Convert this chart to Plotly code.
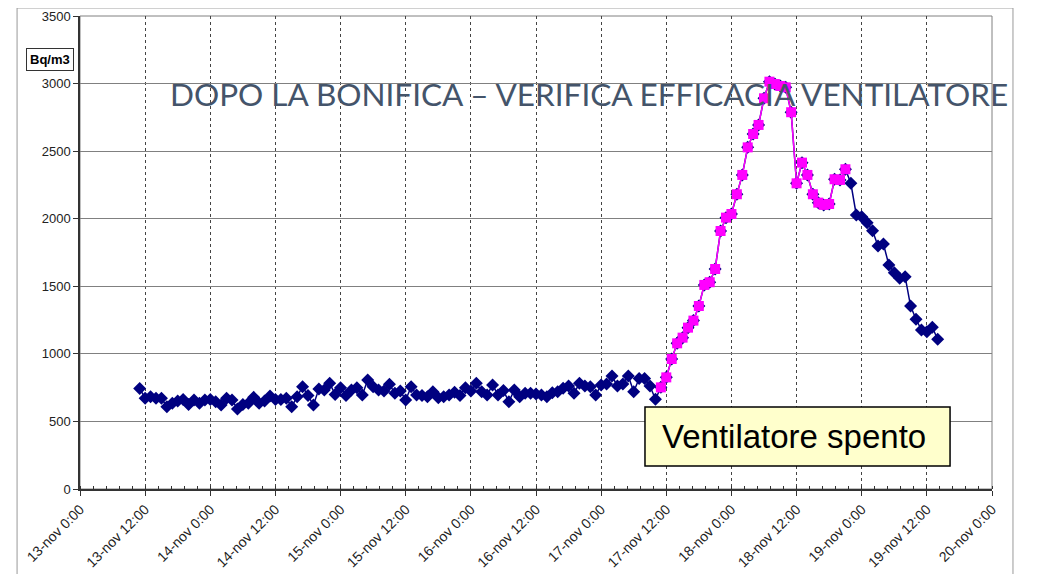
import pandas as pd
import plotly.graph_objects as go

# hourly radon readings, first one at 13-nov 11:00
first_reading = "2008-11-13 11:00"
radon_bq_m3 = [
    744, 671, 683, 671, 671, 609, 634, 651, 663, 626, 659, 634, 659, 663, 646, 622,
    671, 659, 592, 626, 634, 678, 634, 651, 688, 663, 663, 671, 609, 683, 757,
    691, 622, 740, 733, 782, 700, 750, 691, 733, 750, 696, 807, 757, 733, 725, 775,
    708, 725, 659, 757, 696, 691, 683, 720, 676, 683, 696, 715, 691, 750, 725,
    782, 720, 696, 770, 696, 728, 646, 733, 683, 708, 708, 703, 696, 683, 713, 720,
    745, 762, 708, 782, 762, 757, 696, 770, 777, 836, 762, 777, 836, 720, 818, 818,
    762, 664,
    752, 826, 962, 1078, 1120, 1194, 1246, 1354, 1510, 1530, 1628, 1909, 2008, 2035,
    2181, 2324,
    2528, 2627, 2694, 2891, 3014, 2997, 2982, 2972, 2788, 2262, 2415, 2324, 2181, 2119,
    2102, 2109, 2292, 2287, 2366,
    2262, 2028, 2015, 1971, 1911, 1798, 1813, 1658, 1601, 1559, 1571, 1354, 1256, 1177,
    1164, 1196, 1108,
]

# period with the fan switched off (magenta)
fan_off_from = "2008-11-17 11:00"
fan_off_to = "2008-11-18 21:00"

tick_times = pd.date_range("2008-11-13 00:00", "2008-11-20 00:00", freq="12h")
tick_labels = [
    "13-nov 0:00", "13-nov 12:00", "14-nov 0:00", "14-nov 12:00", "15-nov 0:00",
    "15-nov 12:00", "16-nov 0:00", "16-nov 12:00", "17-nov 0:00", "17-nov 12:00",
    "18-nov 0:00", "18-nov 12:00", "19-nov 0:00", "19-nov 12:00", "20-nov 0:00",
]

series = pd.Series(
    radon_bq_m3,
    index=pd.date_range(first_reading, periods=len(radon_bq_m3), freq="h"),
)
fan_off = series[fan_off_from:fan_off_to]

fig = go.Figure()
fig.add_trace(
    go.Scatter(
        x=series.index,
        y=series.values,
        mode="lines+markers",
        line=dict(color="#000080", width=1.5),
        marker=dict(symbol="diamond", size=10, color="#000080"),
        name="Ventilatore acceso",
    )
)
fig.add_trace(
    go.Scatter(
        x=fan_off.index,
        y=fan_off.values,
        mode="lines+markers",
        line=dict(color="#FF00FF", width=1.5),
        marker=dict(symbol="square", size=10, color="#FF00FF"),
        name="Ventilatore spento",
    )
)

# the page body has an 8px margin, so the plot area is placed with that in mind
fig.update_layout(
    width=1043,
    height=574,
    margin=dict(l=72, r=59, t=8, b=93),
    paper_bgcolor="white",
    plot_bgcolor="white",
    showlegend=False,
    font=dict(family="Liberation Sans, Arial, sans-serif", color="#222"),
)
fig.update_xaxes(
    type="date",
    automargin=False,
    range=[tick_times[0], tick_times[-1]],
    tickmode="array",
    tickvals=tick_times,
    ticktext=tick_labels,
    tickangle=-45,
    tickfont=dict(size=14),
    ticks="outside",
    ticklen=5,
    tickcolor="#333",
    showline=True,
    linecolor="#333",
    linewidth=1.5,
    showgrid=True,
    gridcolor="#444",
    griddash="dot",
    gridwidth=1,
    zeroline=False,
    minor=dict(ticks="inside", ticklen=3, dtick=8640000, tickcolor="#333", showgrid=False),
)
fig.update_yaxes(
    automargin=False,
    range=[0, 3500],
    dtick=500,
    tickfont=dict(size=13),
    ticks="outside",
    ticklen=5,
    tickcolor="#333",
    showline=True,
    linecolor="#333",
    linewidth=1.5,
    gridcolor="#808080",
    gridwidth=1,
    zeroline=False,
)

# plot area frame and outer chart frame
fig.add_shape(type="rect", xref="paper", yref="paper", x0=0, x1=1, y0=0, y1=1,
              line=dict(color="#808080", width=1), layer="below")
fig.add_shape(type="rect", xref="paper", yref="paper", x0=-0.069, x1=1.023, y0=-0.4, y1=1.017,
              line=dict(color="#999", width=1))

# "Ventilatore spento" box
fig.add_shape(type="rect", xref="paper", yref="paper", x0=0.6195, x1=0.954, y0=0.0486, y1=0.1734,
              fillcolor="#FFFFCC", line=dict(color="black", width=1.5))
fig.add_annotation(xref="paper", yref="paper", x=0.7825, y=0.111, xanchor="center", yanchor="middle",
                   text="Ventilatore spento", showarrow=False, font=dict(size=33, color="black"))

fig.add_annotation(xref="paper", yref="paper", x=-0.033, y=0.908, xanchor="center", yanchor="middle",
                   text="<b>Bq/m3</b>", showarrow=False, font=dict(size=13, color="black"),
                   bgcolor="white", bordercolor="#333", borderwidth=1, borderpad=3)

fig.add_annotation(xref="paper", yref="paper", x=0.0965, y=0.835, xanchor="left", yanchor="middle",
                   text="DOPO LA BONIFICA – VERIFICA EFFICACIA VENTILATORE",
                   showarrow=False, font=dict(family="Lato", size=31.5, color="#44546A"))

fig.write_html("out.html")
